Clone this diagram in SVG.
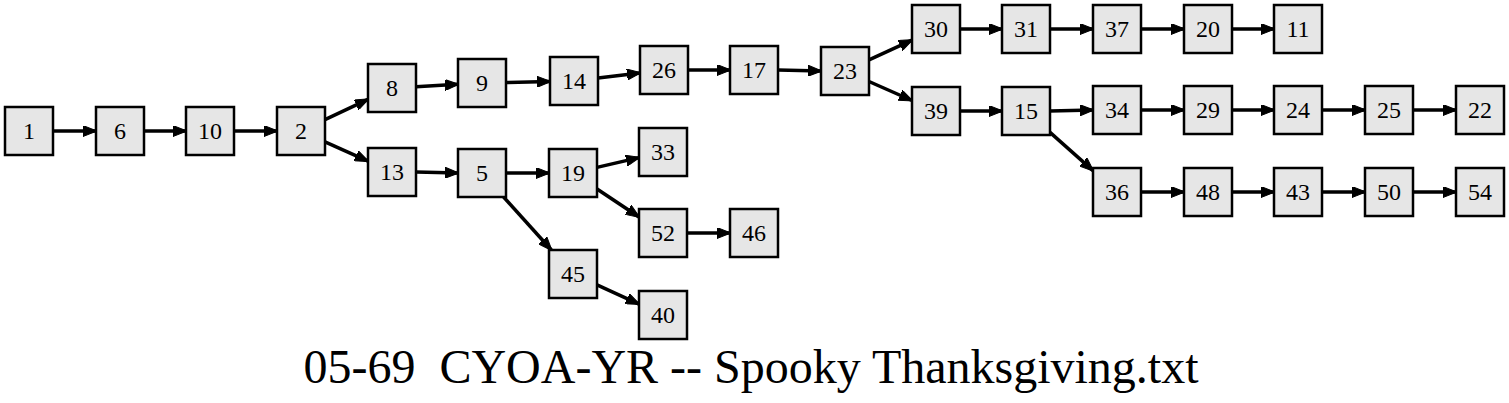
<svg xmlns="http://www.w3.org/2000/svg" width="1509" height="403" viewBox="0 0 1509 403">
<style>
.n rect{fill:#e6e6e6;stroke:#000;stroke-width:2.5}
.n text{font-family:"Liberation Serif","Times New Roman",serif;font-size:24px;text-anchor:middle;fill:#000}
#edges path{fill:none;stroke:#000;stroke-width:3.5;marker-end:url(#ah)}
.title{font-family:"Liberation Serif","Times New Roman",serif;font-size:48px;text-anchor:middle;fill:#000;white-space:pre}
</style>
<defs>
<marker id="ah" viewBox="0 0 14 11" refX="13" refY="5.5" markerWidth="14" markerHeight="11" markerUnits="userSpaceOnUse" orient="auto">
<path d="M0,0 L14,5.5 L0,11 z" fill="#000" stroke="#000" stroke-width="1"/>
</marker>
</defs>
<rect width="1509" height="403" fill="#fff"/>
<g id="edges">
<path d="M53,131 L96,131"/>
<path d="M144,131 L186,131"/>
<path d="M234,131 L277,131"/>
<path d="M325,119.7 L368,99.3"/>
<path d="M325,141.8 L368,161.2"/>
<path d="M416,86.7 L458,84.3"/>
<path d="M506,82.5 L550,81.5"/>
<path d="M598,78.1 L640,72.9"/>
<path d="M688,70 L730,70"/>
<path d="M778,70 L821,71"/>
<path d="M869,59.9 L912,40.1"/>
<path d="M869,81.5 L912,100.5"/>
<path d="M960,29 L1002,29"/>
<path d="M1050,29 L1093,29"/>
<path d="M1141,29 L1184,29"/>
<path d="M1232,29 L1274,29"/>
<path d="M960,111 L1002,111"/>
<path d="M1050,111 L1093,110"/>
<path d="M1141,110 L1184,110"/>
<path d="M1232,110 L1274,110"/>
<path d="M1322,110 L1365,110"/>
<path d="M1413,110 L1456,110"/>
<path d="M1050,132.4 L1093,170.6"/>
<path d="M1141,192 L1184,192"/>
<path d="M1232,192 L1274,192"/>
<path d="M1322,192 L1365,192"/>
<path d="M1413,192 L1456,192"/>
<path d="M416,172 L458,173"/>
<path d="M506,173 L549,173"/>
<path d="M597,167.4 L639,157.6"/>
<path d="M597,189 L639,217"/>
<path d="M687,233 L730,233"/>
<path d="M503.6,197 L551.4,250"/>
<path d="M597,284.9 L639,304.1"/>
</g>
<g id="n1" class="n"><rect x="5" y="107" width="48" height="48"/><text x="29" y="139">1</text></g>
<g id="n6" class="n"><rect x="96" y="107" width="48" height="48"/><text x="120" y="139">6</text></g>
<g id="n10" class="n"><rect x="186" y="107" width="48" height="48"/><text x="210" y="139">10</text></g>
<g id="n2" class="n"><rect x="277" y="107" width="48" height="48"/><text x="301" y="139">2</text></g>
<g id="n8" class="n"><rect x="368" y="64" width="48" height="48"/><text x="392" y="96">8</text></g>
<g id="n13" class="n"><rect x="368" y="148" width="48" height="48"/><text x="392" y="180">13</text></g>
<g id="n9" class="n"><rect x="458" y="59" width="48" height="48"/><text x="482" y="91">9</text></g>
<g id="n5" class="n"><rect x="458" y="149" width="48" height="48"/><text x="482" y="181">5</text></g>
<g id="n14" class="n"><rect x="550" y="57" width="48" height="48"/><text x="574" y="89">14</text></g>
<g id="n19" class="n"><rect x="549" y="149" width="48" height="48"/><text x="573" y="181">19</text></g>
<g id="n26" class="n"><rect x="640" y="46" width="48" height="48"/><text x="664" y="78">26</text></g>
<g id="n33" class="n"><rect x="639" y="128" width="48" height="48"/><text x="663" y="160">33</text></g>
<g id="n52" class="n"><rect x="639" y="209" width="48" height="48"/><text x="663" y="241">52</text></g>
<g id="n45" class="n"><rect x="549" y="250" width="48" height="48"/><text x="573" y="282">45</text></g>
<g id="n17" class="n"><rect x="730" y="46" width="48" height="48"/><text x="754" y="78">17</text></g>
<g id="n46" class="n"><rect x="730" y="209" width="48" height="48"/><text x="754" y="241">46</text></g>
<g id="n40" class="n"><rect x="639" y="291" width="48" height="48"/><text x="663" y="323">40</text></g>
<g id="n23" class="n"><rect x="821" y="47" width="48" height="48"/><text x="845" y="79">23</text></g>
<g id="n30" class="n"><rect x="912" y="5" width="48" height="48"/><text x="936" y="37">30</text></g>
<g id="n39" class="n"><rect x="912" y="87" width="48" height="48"/><text x="936" y="119">39</text></g>
<g id="n31" class="n"><rect x="1002" y="5" width="48" height="48"/><text x="1026" y="37">31</text></g>
<g id="n15" class="n"><rect x="1002" y="87" width="48" height="48"/><text x="1026" y="119">15</text></g>
<g id="n37" class="n"><rect x="1093" y="5" width="48" height="48"/><text x="1117" y="37">37</text></g>
<g id="n34" class="n"><rect x="1093" y="86" width="48" height="48"/><text x="1117" y="118">34</text></g>
<g id="n36" class="n"><rect x="1093" y="168" width="48" height="48"/><text x="1117" y="200">36</text></g>
<g id="n20" class="n"><rect x="1184" y="5" width="48" height="48"/><text x="1208" y="37">20</text></g>
<g id="n29" class="n"><rect x="1184" y="86" width="48" height="48"/><text x="1208" y="118">29</text></g>
<g id="n48" class="n"><rect x="1184" y="168" width="48" height="48"/><text x="1208" y="200">48</text></g>
<g id="n11" class="n"><rect x="1274" y="5" width="48" height="48"/><text x="1298" y="37">11</text></g>
<g id="n24" class="n"><rect x="1274" y="86" width="48" height="48"/><text x="1298" y="118">24</text></g>
<g id="n43" class="n"><rect x="1274" y="168" width="48" height="48"/><text x="1298" y="200">43</text></g>
<g id="n25" class="n"><rect x="1365" y="86" width="48" height="48"/><text x="1389" y="118">25</text></g>
<g id="n50" class="n"><rect x="1365" y="168" width="48" height="48"/><text x="1389" y="200">50</text></g>
<g id="n22" class="n"><rect x="1456" y="86" width="48" height="48"/><text x="1480" y="118">22</text></g>
<g id="n54" class="n"><rect x="1456" y="168" width="48" height="48"/><text x="1480" y="200">54</text></g>
<text class="title" x="751" y="383" xml:space="preserve">05-69  CYOA-YR -- Spooky Thanksgiving.txt</text>
</svg>
